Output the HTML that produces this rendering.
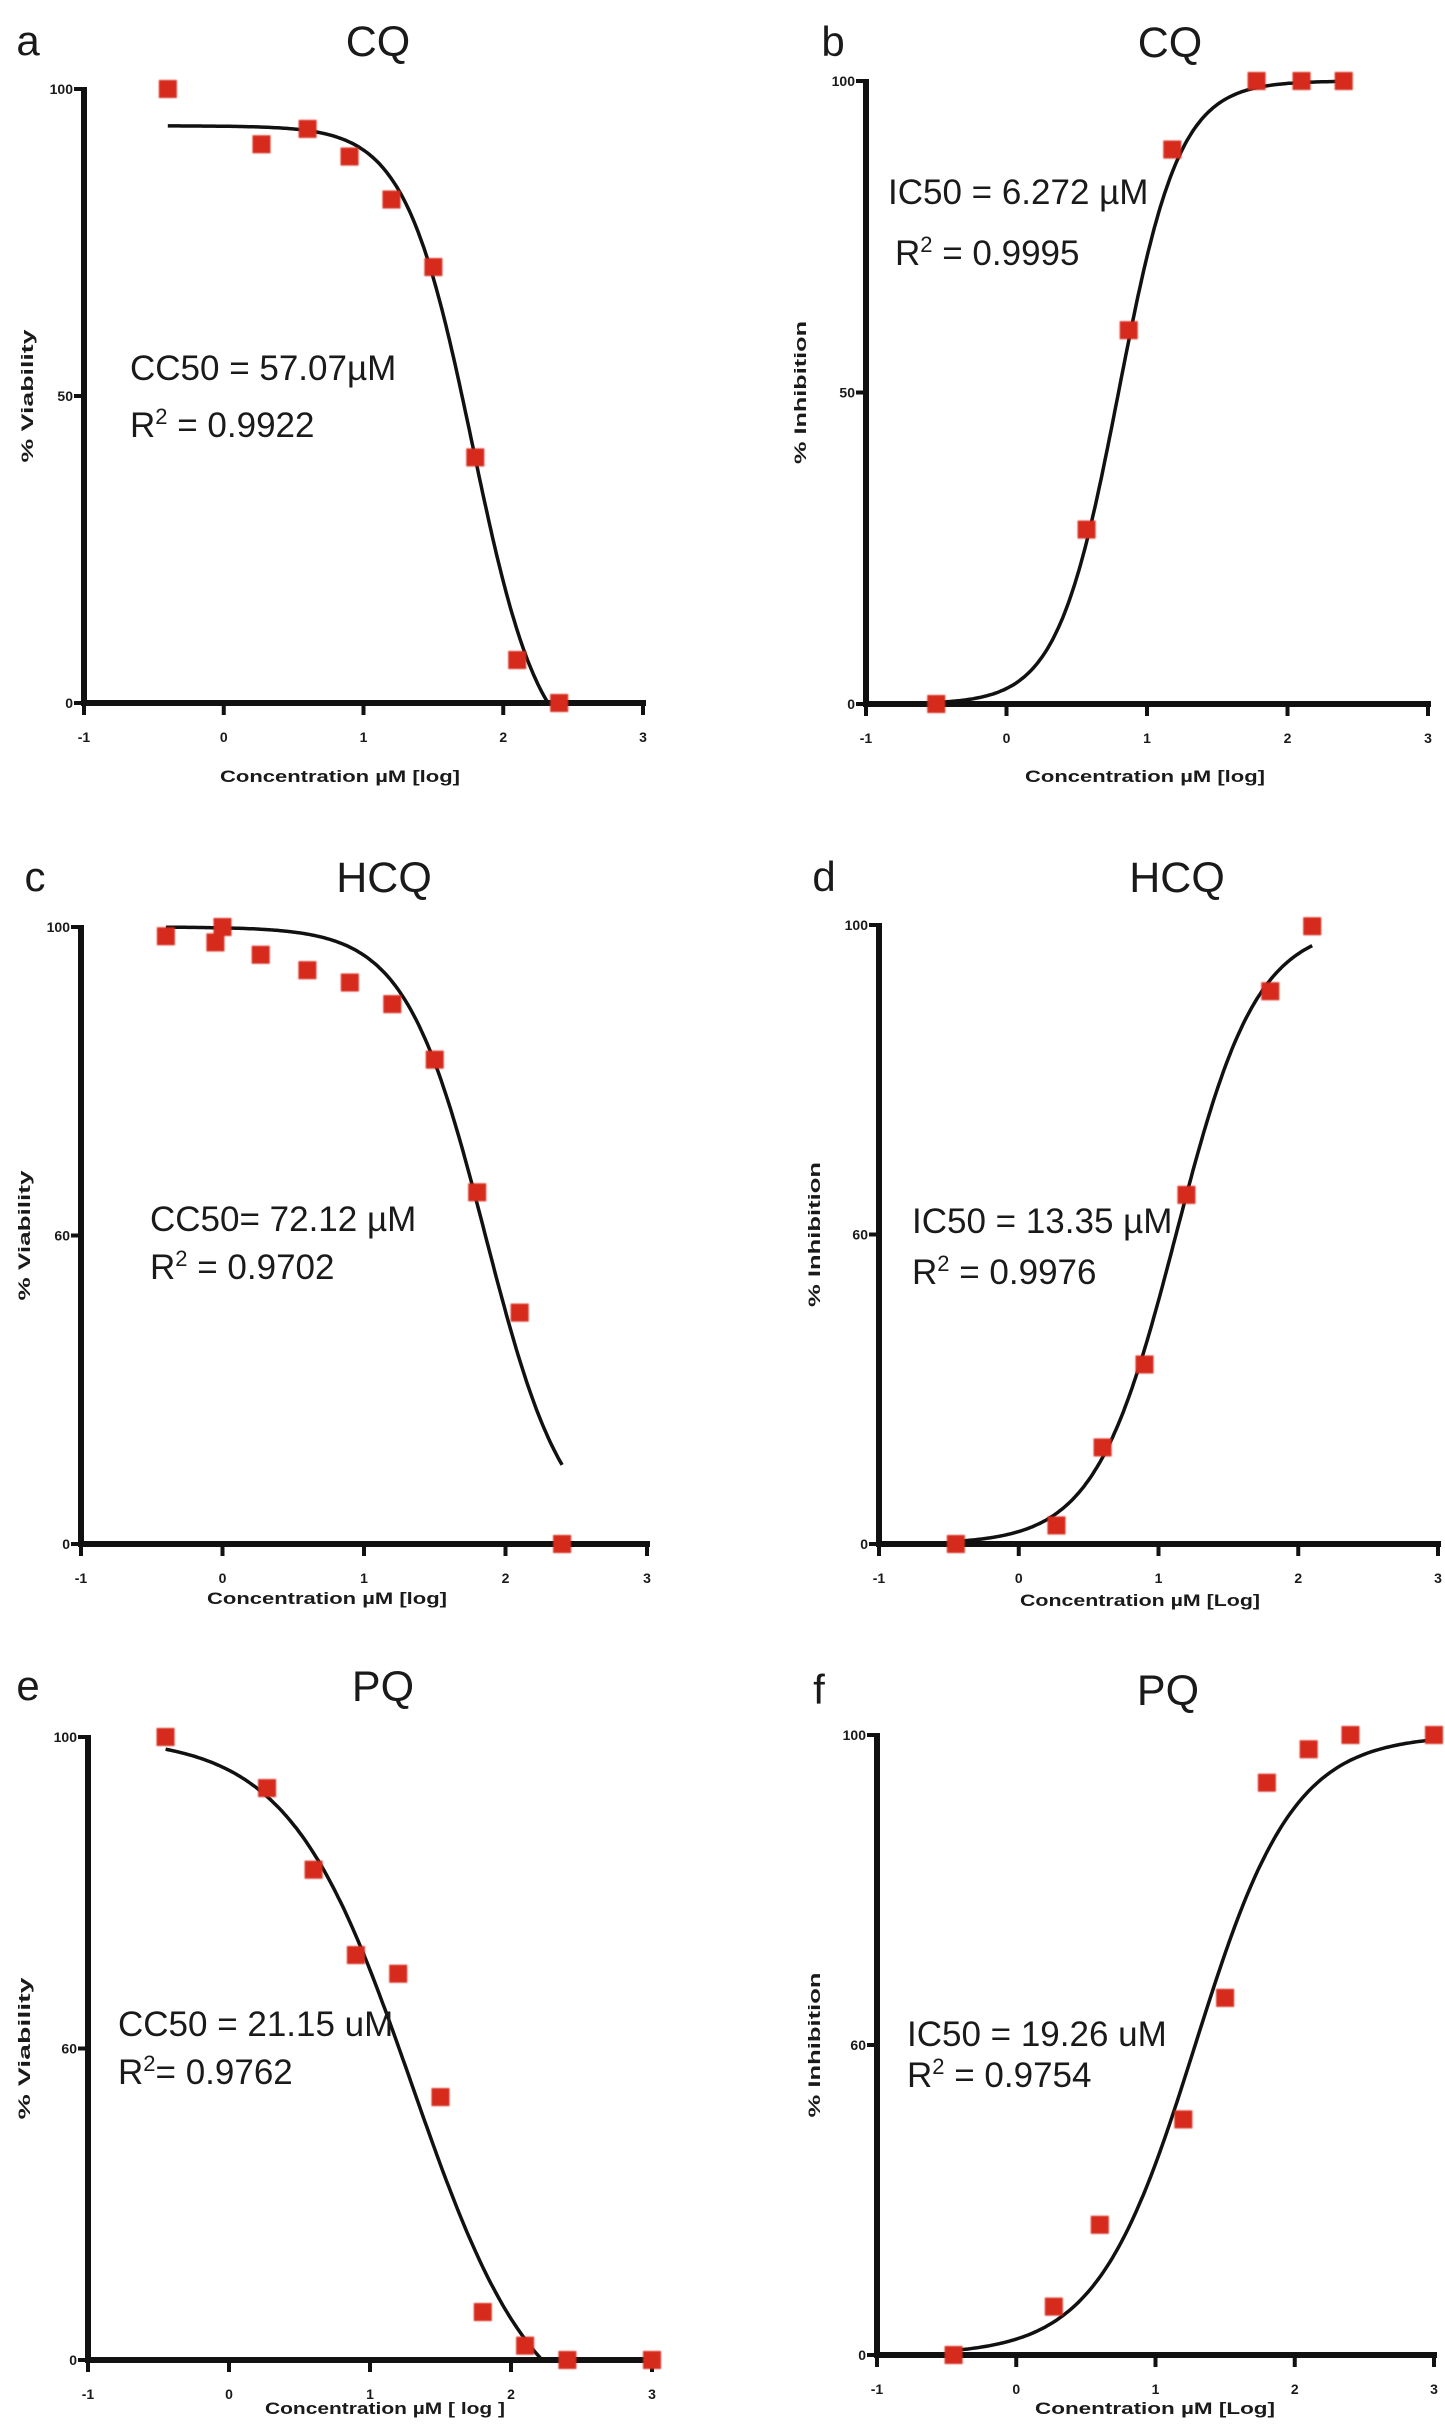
<!DOCTYPE html>
<html><head><meta charset="utf-8">
<style>
html,body{margin:0;padding:0;background:#fff;}
svg{display:block;}
text{font-family:"Liberation Sans",Arial,sans-serif;fill:#1a1a1a;}
.tick{font-size:14px;font-weight:bold;}
.atitle{font-size:17px;font-weight:bold;}
.ptitle{font-size:43px;}
.letter{font-size:42px;}
.annot{font-size:35px;}
</style></head>
<body>
<svg id="fig" width="1445" height="2425" viewBox="0 0 1445 2425" xmlns="http://www.w3.org/2000/svg">
<defs><filter id="soft" x="-30%" y="-30%" width="160%" height="160%"><feGaussianBlur stdDeviation="0.8"/></filter></defs>
</svg>
<script>
// ---- data (log concentration, percent) ----
const xTickLabels = ["-1","0","1","2","3"];
const xTickValues = [-1,0,1,2,3];
const yTickValuesA = [0,50,100];
const yTickLabelsA = ["0","50","100"];
const yTickLabelsC = ["0","60","100"];

const aX = [-0.4,0.27,0.6,0.9,1.2,1.5,1.8,2.1,2.4];
const aY = [100,91,93.5,89,82,71,40,7,0];
const bX = [-0.5,0.57,0.87,1.18,1.78,2.1,2.4];
const bY = [0,28,60,89,100,100,100];
const cX = [-0.4,-0.05,0,0.27,0.6,0.9,1.2,1.5,1.8,2.1,2.4];
const cY = [98.5,97.5,100,95.5,93,91,87.5,78.5,57,37.5,0];
const dX = [-0.45,0.27,0.6,0.9,1.2,1.8,2.1];
const dY = [0,3,15.6,29,56.4,89.3,99.8];
const eX = [-0.45,0.27,0.6,0.9,1.2,1.5,1.8,2.1,2.4,3];
const eY = [100,91.8,78.7,65,62,42.2,7.7,2.3,0,0];
const fX = [-0.45,0.27,0.6,1.2,1.5,1.8,2.1,2.4,3];
const fY = [0,7.8,21,38,57.6,92.3,97.7,100,100];

// fit params: [top, bottom, logC50, hill, xStart, xEnd]
const aFit = [94,-10,1.78,-1.8,-0.4,2.4];
const bFit = [100,0,0.797,2.0,-0.5,2.4];
const cFit = [100,0,1.858,-1.536,-0.4,2.4];
const dFit = [100,0,1.1255,1.5,-0.45,2.1];
const eFit = [100,-12,1.3,-1.0,-0.45,2.4];
const fFit = [100,0,1.285,1.23,-0.45,3];

const NS="http://www.w3.org/2000/svg";
const svg=document.getElementById('fig');
function mk(tag,attrs,parent){const e=document.createElementNS(NS,tag);for(const k in attrs)e.setAttribute(k,attrs[k]);(parent||svg).appendChild(e);return e;}

function panel(p){
  const g=mk('g',{});
  
  
  const xs=v=>p.x0+(v+1)*(p.x3-p.x0)/4;
  const ys=v=>p.y0-(v/100)*(p.y0-p.y100);
  let t=mk('text',{x:p.lx,y:p.lb,class:'letter','text-anchor':'middle'},g);t.textContent=p.id;
  
  
  t=mk('text',{x:p.tx,y:p.lb+1,class:'ptitle','text-anchor':'middle'},g);t.textContent=p.title;
  
  
  let ax=mk('line',{x1:p.x0,y1:p.y100-2,x2:p.x0,y2:p.y0+3,stroke:'#111','stroke-width':6},g);
  
  
  ax=mk('line',{x1:p.x0-3,y1:p.y0,x2:p.x3+3,y2:p.y0,stroke:'#111','stroke-width':6},g);
  
  
  xTickValues.forEach((v,i)=>{
    const tk=mk('line',{x1:xs(v),y1:p.y0,x2:xs(v),y2:p.y0+12,stroke:'#111','stroke-width':4},g);
    
    
    const tl=mk('text',{x:xs(v),y:p.y0+39,class:'tick','text-anchor':'middle'},g);tl.textContent=xTickLabels[i];
    
    
  });
  yTickValuesA.forEach((v,i)=>{
    const tk=mk('line',{x1:p.x0-10,y1:ys(v),x2:p.x0,y2:ys(v),stroke:'#111','stroke-width':4},g);
    
    
    const tl=mk('text',{x:p.x0-11,y:ys(v)+5,class:'tick','text-anchor':'end'},g);tl.textContent=p.ylabels[i];
    
    
  });
  t=mk('text',{x:p.atx,y:p.aty,class:'atitle','text-anchor':'middle',textLength:240,lengthAdjust:'spacingAndGlyphs'},g);t.textContent=p.xtitle;
  
  
  const ycy=(p.y0+p.y100)/2;
  t=mk('text',{x:p.ylx,y:ycy,class:'atitle','text-anchor':'middle',transform:`rotate(-90 ${p.ylx} ${ycy})`,textLength:p.ylen,lengthAdjust:'spacingAndGlyphs'},g);t.textContent=p.ytitle;
  
  
  const [top,bot,lc,h,xa,xb]=p.fit;
  let d='';
  for(let i=0;i<=200;i++){
    const x=xa+(xb-xa)*i/200;
    let y=bot+(top-bot)/(1+Math.pow(10,(lc-x)*h));
    if(y<0){ if(d) break; else continue; }
    d+=(d?'L':'M')+xs(x).toFixed(1)+','+ys(y).toFixed(1);
  }
  const c=mk('path',{d:d,fill:'none',stroke:'#111','stroke-width':3.5},g);
  
  
  p.xd.forEach((xv,i)=>{
    const r=mk('rect',{x:xs(xv)-9,y:ys(p.yd[i])-9,width:18,height:18,fill:'#d62a1e',filter:'url(#soft)'},g);
    
    
  });
  t=mk('text',{x:p.ax,y:p.ab1,class:'annot'},g);t.textContent=p.l1;
  
  
  t=mk('text',{x:p.rx,y:p.ab2,class:'annot'},g);
  
  
  const s1=mk('tspan',{},t);s1.textContent='R';
  const s2=mk('tspan',{dy:-13,'font-size':22},t);s2.textContent='2';
  const s3=mk('tspan',{dy:13},t);s3.textContent=p.l2;
}

panel({id:'a',title:'CQ',x0:84,x3:643,y0:703,y100:89,lx:28,lb:55,tx:378,atx:340,aty:782,ylx:33,ylen:133,
  ylabels:yTickLabelsA,xtitle:'Concentration µM [log]',ytitle:'% Viability',xd:aX,yd:aY,fit:aFit,
  ax:130,ab1:380,rx:130,ab2:437,l1:'CC50 = 57.07µM',l2:' = 0.9922'});
panel({id:'b',title:'CQ',x0:866,x3:1428,y0:704,y100:81,lx:833,lb:56,tx:1170,atx:1145,aty:782,ylx:806,ylen:143,
  ylabels:yTickLabelsA,xtitle:'Concentration µM [log]',ytitle:'% Inhibition',xd:bX,yd:bY,fit:bFit,
  ax:888,ab1:204,rx:895,ab2:265,l1:'IC50 = 6.272 µM',l2:'  = 0.9995'});
panel({id:'c',title:'HCQ',x0:81,x3:647,y0:1544,y100:927,lx:35,lb:891,tx:384,atx:327,aty:1604,ylx:30,ylen:130,
  ylabels:yTickLabelsC,xtitle:'Concentration µM [log]',ytitle:'% Viability',xd:cX,yd:cY,fit:cFit,
  ax:150,ab1:1231,rx:150,ab2:1279,l1:'CC50= 72.12 µM',l2:' = 0.9702'});
panel({id:'d',title:'HCQ',x0:879,x3:1438,y0:1544,y100:925,lx:824,lb:891,tx:1177,atx:1140,aty:1606,ylx:820,ylen:145,
  ylabels:yTickLabelsC,xtitle:'Concentration µM [Log]',ytitle:'% Inhibition',xd:dX,yd:dY,fit:dFit,
  ax:912,ab1:1233,rx:912,ab2:1284,l1:'IC50 = 13.35 µM',l2:' = 0.9976'});
panel({id:'e',title:'PQ',x0:88,x3:652,y0:2360,y100:1737,lx:28,lb:1700,tx:383,atx:385,aty:2414,ylx:30,ylen:142,
  ylabels:yTickLabelsC,xtitle:'Concentration µM [ log ]',ytitle:'% Viability',xd:eX,yd:eY,fit:eFit,
  ax:118,ab1:2036,rx:118,ab2:2084,l1:'CC50 = 21.15 uM',l2:'= 0.9762'});
panel({id:'f',title:'PQ',x0:877,x3:1434,y0:2355,y100:1735,lx:819,lb:1704,tx:1168,atx:1155,aty:2414,ylx:820,ylen:145,
  ylabels:yTickLabelsC,xtitle:'Conentration µM [Log]',ytitle:'% Inhibition',xd:fX,yd:fY,fit:fFit,
  ax:907,ab1:2046,rx:907,ab2:2087,l1:'IC50 = 19.26 uM',l2:'  = 0.9754'});
</script>
</body></html>
